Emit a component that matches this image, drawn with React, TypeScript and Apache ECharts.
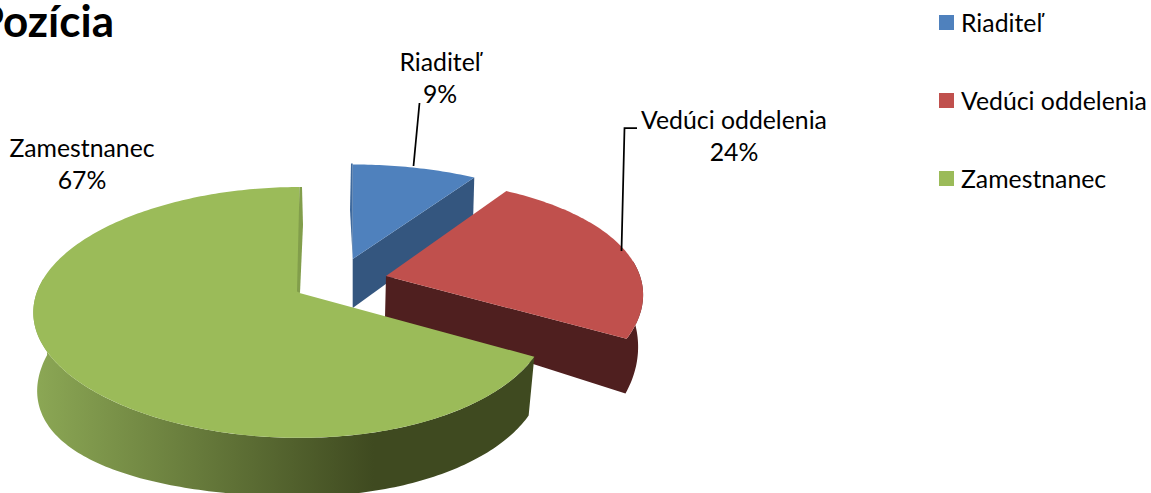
import React, { useEffect, useRef } from "react";
import * as echarts from "echarts";

const categories = ["Riaditeľ", "Vedúci oddelenia", "Zamestnanec"];
const values = [9, 24, 67];
const titleText = "Pozícia";

const colors = ["#4f81bd", "#c0504d", "#9bbb59"];
const FONT = "Lato, Carlito, Calibri, sans-serif";
const LABEL_SIZE = 24.8;

type Disc = { ax: number; b: number; r: number; a: number; k: number; ky?: number; m: number; my?: number };
type Geo = {
  top: Disc;
  bottom: Disc;
  side: any;
  wall: boolean;
  rimSpan: number;
  sliver: number[][];
  sliverFill: string;
  label: number[];
  leader: number[][];
};

const geos: Geo[] = [
  {
    top: { ax: 352.7, b: 259, r: 256.6, a: 69, k: 0.155, m: 0 },
    bottom: { ax: 352.7, b: 308, r: 254, a: 69, k: 0.155, m: 0 },
    side: "#34567f",
    wall: true,
    rimSpan: 0,
    sliver: [[352.7, 163.5], [351, 163.5], [350, 210], [352.7, 259]],
    sliverFill: "#3f6a9e",
    label: [440, 46],
    leader: [[413.5, 166], [419.5, 103]],
  },
  {
    top: { ax: 386, b: 276, r: 254, a: 62, k: 0.155, ky: 0.202, m: 0 },
    bottom: { ax: 385, b: 317, r: 248, a: 80, k: 0.2, m: 0 },
    side: "#4f1f1f",
    wall: true,
    rimSpan: -36,
    sliver: [],
    sliverFill: "",
    label: [734, 104],
    leader: [[637, 128], [624.5, 128], [621.5, 251]],
  },
  {
    top: { ax: 299.5, b: 293, r: 255, a: 77, k: 0.155, m: 0.03 },
    bottom: { ax: 299.5, b: 352, r: 250, a: 67.6, k: 0.155, m: 0.035, my: 0.05 },
    side: new echarts.graphic.LinearGradient(0, 0, 1, 0, [
      { offset: 0, color: "#8ca855" },
      { offset: 0.68, color: "#3f4a20" },
      { offset: 1, color: "#3f4a20" },
    ]),
    wall: false,
    rimSpan: 158,
    sliver: [[299.5, 187], [302, 187], [303, 225], [300, 293], [297, 291.5]],
    sliverFill: "#829e4b",
    label: [82, 132],
    leader: [],
  },
];

function project(d: Disc, deg: number): number[] {
  const t = (deg * Math.PI) / 180;
  const u = Math.sin(t);
  const v = -Math.cos(t);
  const wx = 1 - d.k * v + d.m * u;
  const wy = 1 - (d.ky ?? d.k) * v - (d.my ?? 0) * (u < 0 ? u * u : 0);
  return [d.ax + (d.r * u) / wx, (d.b + d.a * v) / wy];
}

function arc(d: Disc, from: number, to: number): number[][] {
  const pts: number[][] = [];
  const n = Math.max(2, Math.ceil(Math.abs(to - from)));
  for (let i = 0; i <= n; i++) pts.push(project(d, from + ((to - from) * i) / n));
  return pts;
}

const total = values.reduce((s, v) => s + v, 0);

function renderSlice(index: number) {
  return (_params: any, api: any) => {
    const value = api.value(0);
    const startValue = values.slice(0, index).reduce((s, v) => s + v, 0);
    const from = (startValue / total) * 360;
    const to = from + (value / total) * 360;
    const g = geos[index];
    const children: any[] = [];

    // Side surface as one outline: radial wall at the slice's end, plus the visible part of the rim.
    const rimEnd = g.wall ? to + g.rimSpan : from + g.rimSpan;
    const rimStart = g.wall ? to : from;
    const sidePts = [
      ...(g.wall ? [[g.top.ax, g.top.b]] : []),
      ...arc(g.top, rimStart, rimEnd),
      ...arc(g.bottom, rimEnd, rimStart),
      ...(g.wall ? [[g.bottom.ax, g.bottom.b]] : []),
    ];
    children.push({ type: "polygon", shape: { points: sidePts }, style: { fill: g.side } });

    children.push({
      type: "polygon",
      shape: { points: [[g.top.ax, g.top.b], ...arc(g.top, from, to)] },
      style: { fill: colors[index] },
    });
    if (g.sliver.length) {
      children.push({ type: "polygon", shape: { points: g.sliver }, style: { fill: g.sliverFill } });
    }
    if (g.leader.length) {
      children.push({
        type: "polyline",
        shape: { points: g.leader },
        style: { stroke: "#000", lineWidth: 1.75, fill: "none" },
      });
    }
    children.push({
      type: "text",
      x: g.label[0],
      y: g.label[1],
      style: {
        text: `${categories[index]}\n${value}%`,
        fontSize: LABEL_SIZE,
        fontFamily: FONT,
        fill: "#000",
        align: "center",
        verticalAlign: "top",
        lineHeight: 31.5,
      },
    });
    return { type: "group", children };
  };
}

export default function App() {
  const ref = useRef<HTMLDivElement>(null);
  useEffect(() => {
    const chart = echarts.init(ref.current!, undefined, { renderer: "svg" });
    chart.setOption({
      animation: false,
      color: colors,
      backgroundColor: "#fff",
      title: {
        text: titleText,
        left: 109,
        top: -7,
        textAlign: "right",
        textStyle: { fontFamily: FONT, fontSize: 44, fontWeight: "bold", color: "#000" },
      },
      legend: {
        orient: "vertical",
        left: 934,
        top: 2,
        itemWidth: 15,
        itemHeight: 15,
        itemGap: 47,
        icon: "rect",
        selectedMode: false,
        data: categories,
        textStyle: {
          fontFamily: FONT,
          fontSize: LABEL_SIZE,
          color: "#000",
          padding: [0, 0, 0, 2],
          lineHeight: 31,
        },
      },
      series: categories.map((name, i) => ({
        type: "custom",
        name,
        coordinateSystem: "none",
        silent: true,
        itemStyle: { color: colors[i] },
        data: [[values[i]]],
        renderItem: renderSlice(i),
      })),
    });
    return () => chart.dispose();
  }, []);
  return (
    <div
      ref={ref}
      style={{ position: "fixed", left: 0, top: 0, width: 1151, height: 493 }}
    />
  );
}
